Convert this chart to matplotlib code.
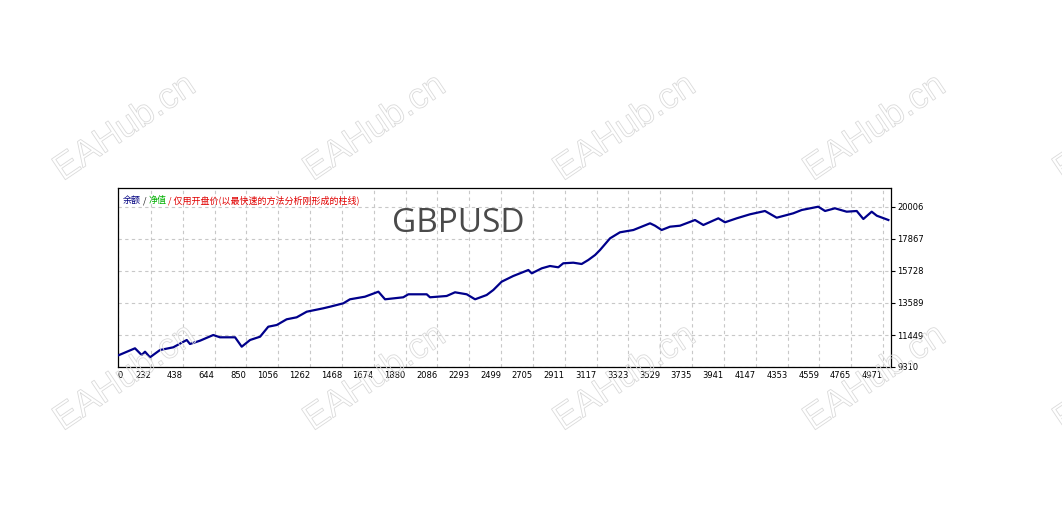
import matplotlib
matplotlib.use('Agg')
import matplotlib.pyplot as plt
import matplotlib.patheffects as pe

# trade number / balance
trades = [0, 128, 171, 193, 225, 290, 376, 463, 484, 549, 635, 678, 776, 819, 873,
	938, 991, 1046, 1110, 1175, 1240, 1347, 1391, 1477, 1520, 1617, 1704, 1747,
	1865, 1898, 2017, 2038, 2146, 2200, 2276, 2330, 2405, 2448, 2502, 2577, 2675,
	2697, 2762, 2815, 2869, 2901, 2966, 3020, 3063, 3107, 3139, 3204, 3268, 3355,
	3463, 3495, 3538, 3592, 3657, 3754, 3808, 3905, 3948, 4024, 4110, 4207, 4283,
	4390, 4445, 4552, 4596, 4660, 4736, 4801, 4844, 4898, 4931, 5006]
balance = [10000, 10560, 10112, 10333, 9958, 10446, 10627, 11115, 10848, 11068,
	11449, 11295, 11295, 10667, 11115, 11336, 12004, 12118, 12499, 12632, 13007,
	13234, 13341, 13568, 13836, 14010, 14344, 13836, 13970, 14170, 14170, 13970,
	14057, 14304, 14170, 13836, 14123, 14457, 15013, 15393, 15794, 15573, 15908,
	16062, 15975, 16243, 16283, 16196, 16463, 16797, 17131, 17913, 18314, 18468,
	18916, 18756, 18468, 18689, 18756, 19137, 18803, 19250, 18983, 19250, 19518,
	19739, 19290, 19584, 19806, 20026, 19739, 19919, 19692, 19739, 19204, 19692,
	19424, 19137]

xticks = [0, 232, 438, 644, 850, 1056, 1262, 1468, 1674, 1880, 2086, 2293, 2499,
	2705, 2911, 3117, 3323, 3529, 3735, 3941, 4147, 4353, 4559, 4765, 4971]
yticks = [9310, 11449, 13589, 15728, 17867, 20006]
xlim = (18, 5023)
ylim = (9310, 21276)

title = 'GBPUSD'
legend_parts = [('余额', '#000080'), (' / ', '#202020'), ('净值', '#00b000'),
	(' / 仅用开盘价(以最快速的方法分析刚形成的柱线)', '#e00000')]
watermark = 'EAHub.cn'

plt.rcParams['font.family'] = ['Noto Sans CJK SC', 'DejaVu Sans']

fig = plt.figure(figsize = (10.62, 5.13), dpi = 100)
ax = fig.add_axes((118/1062, 146/513, 773/1062, 179/513))

ax.plot(trades, balance, '-', color = '#00008b', lw = 1.6, zorder = 3)
ax.set_xlim(*xlim)
ax.set_ylim(*ylim)

ax.set_xticks([max(t, xlim[0]) for t in xticks])
ax.set_xticklabels([str(t) for t in xticks], family = 'DejaVu Sans', fontsize = 6)
for k, lab in enumerate(ax.get_xticklabels()):
	lab.set_ha('left' if k == 0 else 'right')
ax.set_yticks(yticks)
ax.set_yticklabels([str(t) for t in yticks], family = 'DejaVu Sans', fontsize = 6)
ax.yaxis.tick_right()
ax.tick_params(axis = 'y', length = 3, width = 0.8, pad = 1.5, color = 'k')
ax.tick_params(axis = 'x', length = 0, pad = 3)
for s in ax.spines.values():
	s.set_linewidth(0.9)
ax.grid(True, color = '#c8c8c8', lw = 0.8, ls = (0, (3, 3)), zorder = 0)

ax.text(0.44, 0.80, title, transform = ax.transAxes, ha = 'center', va = 'center',
	fontsize = 24, color = '#4a4a4a', family = ['Open Sans', 'DejaVu Sans'])

prev = None
for txt, c in legend_parts:
	if prev is None:
		prev = ax.text(0.006, 0.955, txt, transform = ax.transAxes, ha = 'left', va = 'top',
			fontsize = 6.5, color = c)
	else:
		prev = ax.annotate(txt, xy = (1, 0), xycoords = prev, ha = 'left', va = 'bottom',
			fontsize = 6.5, color = c)

# hollow watermark grid over the whole figure
for cy in (128, 378):
	for cx in (125, 375, 625, 875, 1125):
		fig.text(cx/1062, 1 - cy/513, watermark, ha = 'center', va = 'center', rotation = 34,
			fontsize = 26, family = 'Liberation Sans', color = (1, 1, 1, 0), zorder = 10,
			path_effects = [pe.Stroke(linewidth = 0.6, foreground = '#dadada')])

fig.savefig('out.png', dpi = 100, facecolor = 'white')
